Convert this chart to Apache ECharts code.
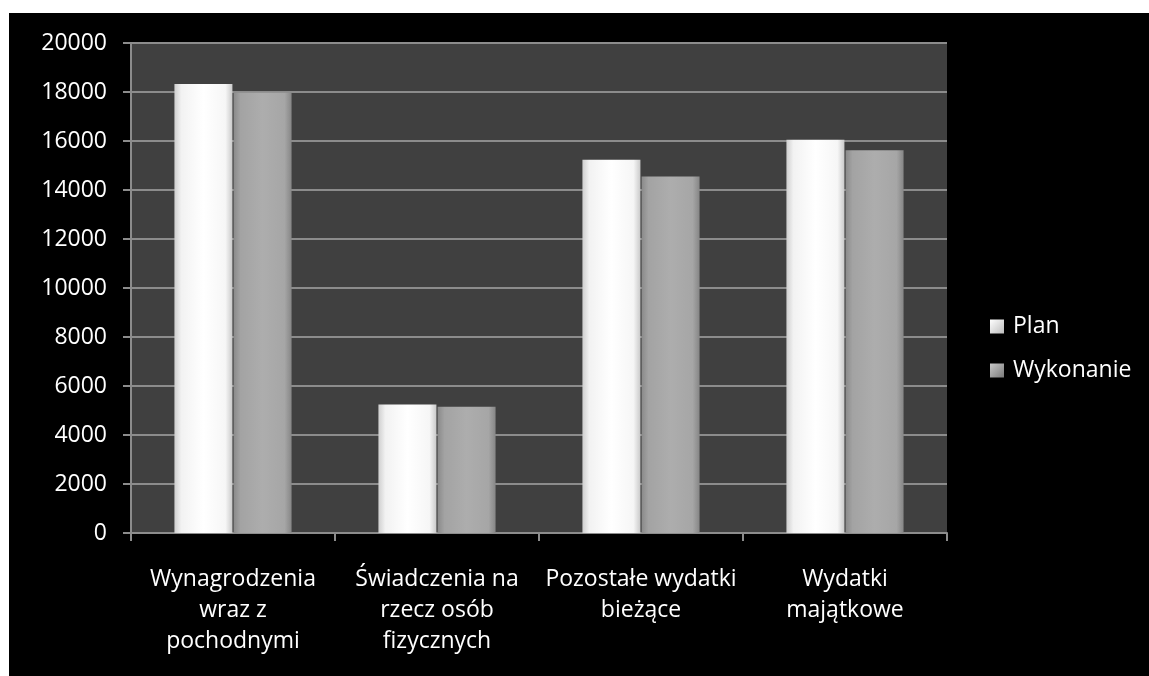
<!DOCTYPE html>
<html><head><meta charset="utf-8">
<script src="https://cdn.jsdelivr.net/npm/echarts@6/dist/echarts.min.js"></script>
<style>
html,body{margin:0;padding:0;background:#fff;width:1149px;height:676px;overflow:hidden}
#c{position:absolute;left:9px;top:13px;width:1140px;height:663px;background:#000}
</style></head><body>
<div id="c"></div>
<script>
const categories = ["Wynagrodzenia\nwraz z\npochodnymi", "Świadczenia na\nrzecz osób\nfizycznych", "Pozostałe wydatki\nbieżące", "Wydatki\nmajątkowe"];
const planValues = [18330, 5250, 15230, 16050];
const wykonanieValues = [17970, 5150, 14550, 15620];
const seriesNames = ["Plan", "Wykonanie"];

const chart = echarts.init(document.getElementById('c'));
const font = '"Open Sans", Lato, sans-serif';
const fs = 23;
const planColor = {type:'linear',x:0,y:0,x2:1,y2:0,colorStops:[
  {offset:0,color:'#cfcfcf'},{offset:0.12,color:'#f2f2f2'},{offset:0.5,color:'#ffffff'},{offset:0.88,color:'#f6f6f6'},{offset:1,color:'#cacaca'}]};
const wykColor = {type:'linear',x:0,y:0,x2:1,y2:0,colorStops:[
  {offset:0,color:'#8a8a8a'},{offset:0.12,color:'#a3a3a3'},{offset:0.5,color:'#adadad'},{offset:0.88,color:'#a6a6a6'},{offset:1,color:'#868686'}]};
const iconPlan = {type:'linear',x:0,y:0,x2:1,y2:1,colorStops:[{offset:0,color:'#ffffff'},{offset:1,color:'#bdbdbd'}]};
const iconWyk = {type:'linear',x:0,y:0,x2:1,y2:1,colorStops:[{offset:0,color:'#c8c8c8'},{offset:1,color:'#7a7a7a'}]};
chart.setOption({
  backgroundColor:'#000',
  animation:false,
  textStyle:{fontFamily:font},
  grid:{left:122,top:30,right:202,bottom:143,show:true,backgroundColor:'#404040',borderWidth:0},
  legend:{orient:'vertical',left:976,top:297,itemGap:21,itemWidth:14,itemHeight:14,icon:'rect',
    textStyle:{color:'#fff',fontSize:fs,fontFamily:font,padding:[0,0,0,4]},
    data:[{name:seriesNames[0],itemStyle:{color:iconPlan}},{name:seriesNames[1],itemStyle:{color:iconWyk}}]},
  xAxis:{type:'category',data:categories,
    axisLine:{lineStyle:{color:'#8c8c8c',width:2}},
    axisTick:{show:true,length:8,lineStyle:{color:'#8c8c8c',width:2}},
    axisLabel:{color:'#fff',fontSize:fs,lineHeight:31,margin:31,interval:0,fontFamily:font}},
  yAxis:{type:'value',min:0,max:20000,interval:2000,
    axisLine:{show:true,lineStyle:{color:'#8c8c8c',width:2}},
    axisTick:{show:true,length:8,lineStyle:{color:'#8c8c8c',width:2}},
    splitLine:{lineStyle:{color:'#8c8c8c',width:2}},
    axisLabel:{color:'#fff',fontSize:fs,margin:24,fontFamily:font,formatter:v=>String(v)}},
  series:[
    {name:seriesNames[0],type:'bar',data:planValues,barWidth:58,barGap:'2%',
      itemStyle:{color:planColor}},
    {name:seriesNames[1],type:'bar',data:wykonanieValues,barWidth:58,
      itemStyle:{color:wykColor}}
  ]
});
</script>
</body></html>
